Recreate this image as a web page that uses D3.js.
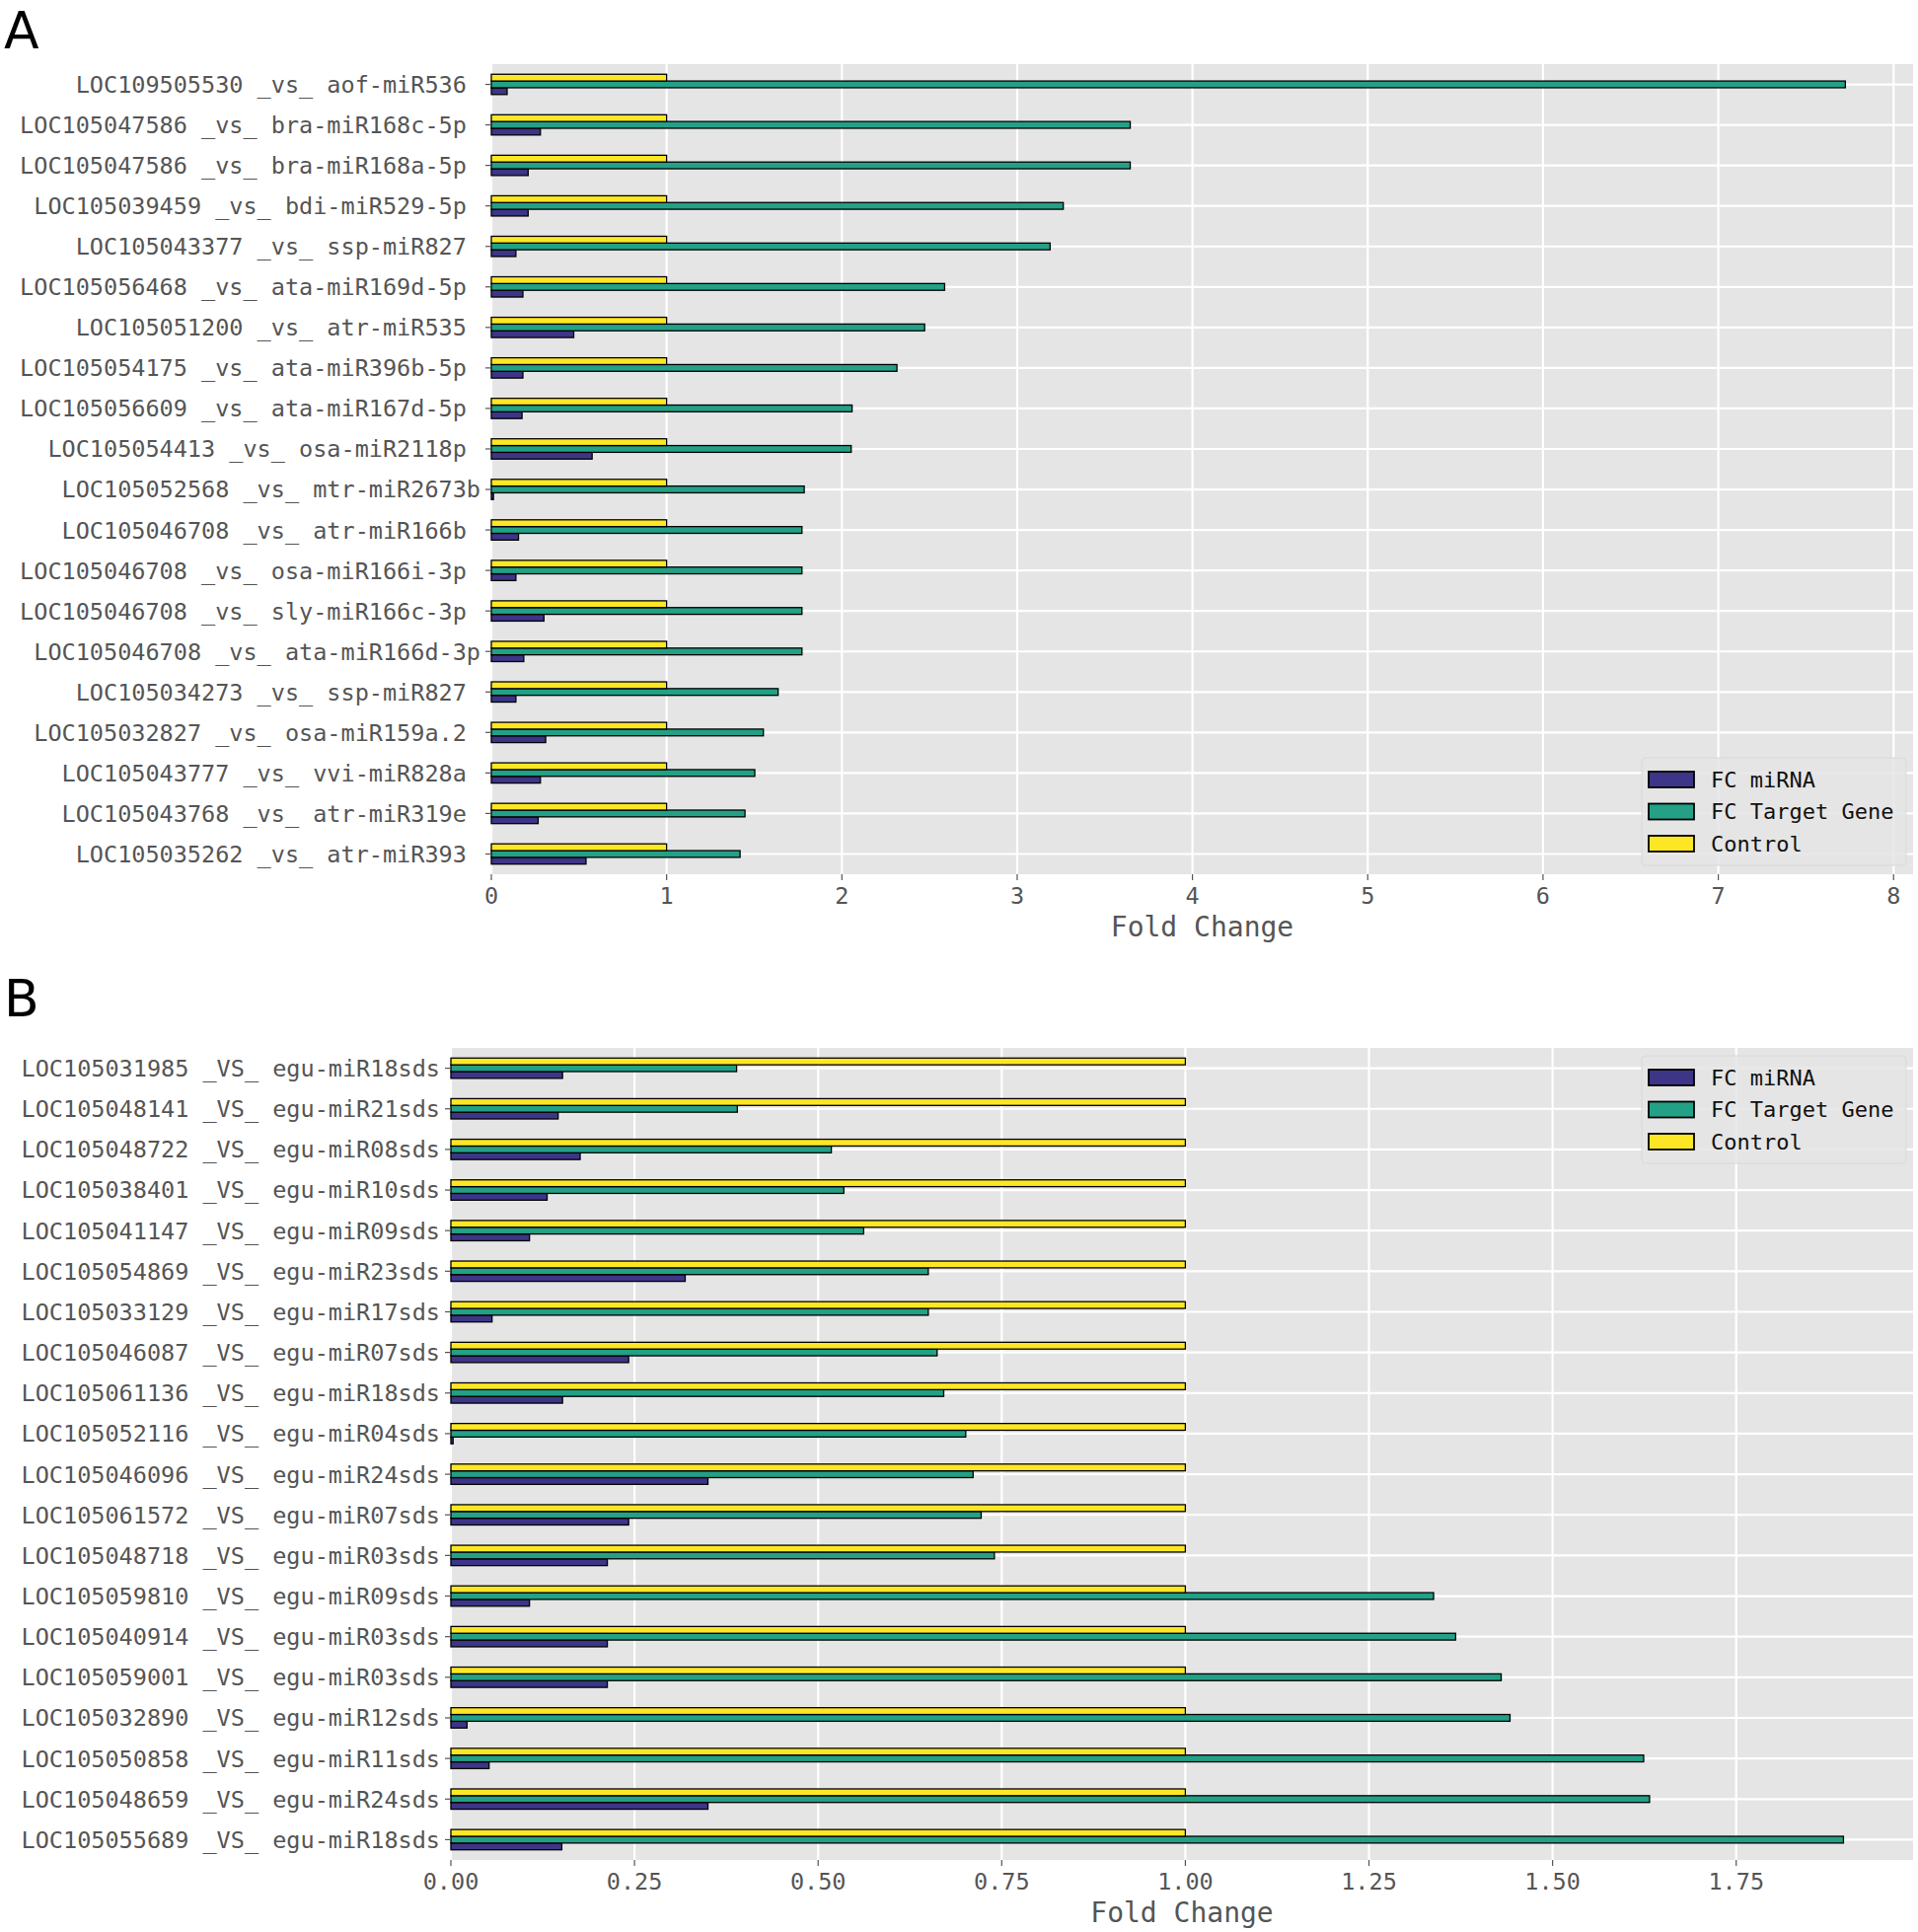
<!DOCTYPE html>
<html>
<head>
<meta charset="utf-8">
<script src="https://cdnjs.cloudflare.com/ajax/libs/d3/7.8.5/d3.min.js"></script>
<style>
  html, body { margin: 0; padding: 0; background: #ffffff; }
  svg text { white-space: pre; }
</style>
</head>
<body>
<svg id="chart" width="1944" height="1958"></svg>
<script>
// ---------------- Data ----------------
const seriesNames = ["FC miRNA", "FC Target Gene", "Control"];
const seriesColors = ["#3d3587", "#23a085", "#fde725"];

// Panel A (top to bottom)
const labelsA = [
  "LOC109505530 _vs_ aof-miR536 ",
  "LOC105047586 _vs_ bra-miR168c-5p ",
  "LOC105047586 _vs_ bra-miR168a-5p ",
  "LOC105039459 _vs_ bdi-miR529-5p ",
  "LOC105043377 _vs_ ssp-miR827 ",
  "LOC105056468 _vs_ ata-miR169d-5p ",
  "LOC105051200 _vs_ atr-miR535 ",
  "LOC105054175 _vs_ ata-miR396b-5p ",
  "LOC105056609 _vs_ ata-miR167d-5p ",
  "LOC105054413 _vs_ osa-miR2118p ",
  "LOC105052568 _vs_ mtr-miR2673b",
  "LOC105046708 _vs_ atr-miR166b ",
  "LOC105046708 _vs_ osa-miR166i-3p ",
  "LOC105046708 _vs_ sly-miR166c-3p ",
  "LOC105046708 _vs_ ata-miR166d-3p",
  "LOC105034273 _vs_ ssp-miR827 ",
  "LOC105032827 _vs_ osa-miR159a.2 ",
  "LOC105043777 _vs_ vvi-miR828a ",
  "LOC105043768 _vs_ atr-miR319e ",
  "LOC105035262 _vs_ atr-miR393 "
];
const miRNA_A   = [0.09, 0.28, 0.21, 0.21, 0.14, 0.18, 0.47, 0.18, 0.175, 0.575, 0.012, 0.155, 0.14, 0.30, 0.185, 0.14, 0.31, 0.28, 0.267, 0.54];
const target_A  = [7.725, 3.645, 3.645, 3.263, 3.188, 2.586, 2.472, 2.314, 2.058, 2.053, 1.785, 1.772, 1.772, 1.772, 1.772, 1.636, 1.552, 1.503, 1.447, 1.419];
const control_A = [1, 1, 1, 1, 1, 1, 1, 1, 1, 1, 1, 1, 1, 1, 1, 1, 1, 1, 1, 1];
const ticksA = [0, 1, 2, 3, 4, 5, 6, 7, 8];

// Panel B (top to bottom)
const labelsB = [
  "LOC105031985 _VS_ egu-miR18sds",
  "LOC105048141 _VS_ egu-miR21sds",
  "LOC105048722 _VS_ egu-miR08sds",
  "LOC105038401 _VS_ egu-miR10sds",
  "LOC105041147 _VS_ egu-miR09sds",
  "LOC105054869 _VS_ egu-miR23sds",
  "LOC105033129 _VS_ egu-miR17sds",
  "LOC105046087 _VS_ egu-miR07sds",
  "LOC105061136 _VS_ egu-miR18sds",
  "LOC105052116 _VS_ egu-miR04sds",
  "LOC105046096 _VS_ egu-miR24sds",
  "LOC105061572 _VS_ egu-miR07sds",
  "LOC105048718 _VS_ egu-miR03sds",
  "LOC105059810 _VS_ egu-miR09sds",
  "LOC105040914 _VS_ egu-miR03sds",
  "LOC105059001 _VS_ egu-miR03sds",
  "LOC105032890 _VS_ egu-miR12sds",
  "LOC105050858 _VS_ egu-miR11sds",
  "LOC105048659 _VS_ egu-miR24sds",
  "LOC105055689 _VS_ egu-miR18sds"
];
const miRNA_B   = [0.152, 0.146, 0.176, 0.131, 0.107, 0.319, 0.056, 0.242, 0.152, 0.003, 0.35, 0.242, 0.213, 0.107, 0.213, 0.213, 0.022, 0.052, 0.35, 0.151];
const target_B  = [0.389, 0.39, 0.518, 0.535, 0.562, 0.65, 0.65, 0.662, 0.671, 0.701, 0.711, 0.722, 0.74, 1.338, 1.368, 1.43, 1.442, 1.624, 1.632, 1.896];
const control_B = [1, 1, 1, 1, 1, 1, 1, 1, 1, 1, 1, 1, 1, 1, 1, 1, 1, 1, 1, 1];
const ticksB = [0, 0.25, 0.5, 0.75, 1.0, 1.25, 1.5, 1.75];

const xLabel = "Fold Change";

// ---------------- Drawing ----------------
const svg = d3.select("#chart");
svg.append("rect").attr("width", 1944).attr("height", 1958).attr("fill", "#ffffff");

const MONO = "'DejaVu Sans Mono', monospace";
const TICK_COLOR = "#555555";

function drawPanel(cfg) {
  const { left, right, top, bottom, labels, series, ticks, fmt, letter, letterY, legendPos } = cfg;
  const g = svg.append("g");
  const n = labels.length;
  const maxVal = d3.max(series.flat());
  const x = d3.scaleLinear().domain([0, maxVal * 1.05]).range([left, right]);
  const y = d3.scaleBand().domain(d3.range(n)).range([top, bottom]).padding(0);
  const step = y.step();
  const bh = step * 0.5 / 3;

  // background
  g.append("rect").attr("x", left).attr("y", top)
    .attr("width", right - left).attr("height", bottom - top).attr("fill", "#e5e5e5");

  // grid
  g.append("g").selectAll("line").data(ticks).join("line")
    .attr("x1", d => x(d)).attr("x2", d => x(d))
    .attr("y1", top).attr("y2", bottom)
    .attr("stroke", "#ffffff").attr("stroke-width", 2.2);
  g.append("g").selectAll("line").data(d3.range(n)).join("line")
    .attr("x1", left).attr("x2", right)
    .attr("y1", d => y(d) + step / 2).attr("y2", d => y(d) + step / 2)
    .attr("stroke", "#ffffff").attr("stroke-width", 2.2);

  // bars: series index 0 (miRNA) lowest, 2 (Control) top
  const offsets = [bh * 0.5, -bh * 0.5, -bh * 1.5];
  series.forEach((vals, si) => {
    g.append("g").selectAll("rect").data(vals).join("rect")
      .attr("x", x(0))
      .attr("y", (d, i) => y(i) + step / 2 + offsets[si])
      .attr("width", d => Math.max(0, x(d) - x(0)))
      .attr("height", bh)
      .attr("fill", seriesColors[si])
      .attr("stroke", "#000000")
      .attr("stroke-width", 1.3);
  });

  // x axis ticks
  const xa = g.append("g");
  xa.selectAll("line").data(ticks).join("line")
    .attr("x1", d => x(d)).attr("x2", d => x(d))
    .attr("y1", bottom).attr("y2", bottom + 6)
    .attr("stroke", TICK_COLOR).attr("stroke-width", 1.2);
  xa.selectAll("text").data(ticks).join("text")
    .attr("x", d => x(d)).attr("y", bottom + 30)
    .attr("text-anchor", "middle")
    .attr("font-family", MONO).attr("font-size", 23.5)
    .attr("fill", TICK_COLOR)
    .text(d => fmt(d));
  g.append("text")
    .attr("x", (left + right) / 2).attr("y", bottom + 63)
    .attr("text-anchor", "middle")
    .attr("font-family", MONO).attr("font-size", 28)
    .attr("fill", TICK_COLOR)
    .text(xLabel);

  // y axis ticks
  const ya = g.append("g");
  ya.selectAll("line").data(d3.range(n)).join("line")
    .attr("x1", left - 6).attr("x2", left)
    .attr("y1", d => y(d) + step / 2).attr("y2", d => y(d) + step / 2)
    .attr("stroke", TICK_COLOR).attr("stroke-width", 1.2);
  ya.selectAll("text").data(labels).join("text")
    .attr("x", left - 11)
    .attr("y", (d, i) => y(i) + step / 2)
    .attr("dy", "0.36em")
    .attr("text-anchor", "end")
    .attr("font-family", MONO).attr("font-size", 23.5)
    .attr("fill", TICK_COLOR)
    .text(d => d);

  // panel letter
  svg.append("text").attr("x", 4).attr("y", letterY)
    .attr("font-family", "'DejaVu Sans', sans-serif").attr("font-size", 52)
    .attr("fill", "#000000").text(letter);

  // legend
  const lw = 268, lh = 109;
  const lx = right - 7 - lw;
  const ly = legendPos === "lower" ? bottom - 9 - lh : top + 8;
  const lg = g.append("g");
  lg.append("rect").attr("x", lx).attr("y", ly).attr("width", lw).attr("height", lh)
    .attr("rx", 4).attr("fill", "#e5e5e5").attr("fill-opacity", 0.85)
    .attr("stroke", "#d9d9d9").attr("stroke-width", 1);
  seriesNames.forEach((name, i) => {
    const cy = ly + 22 + i * 32.5;
    lg.append("rect").attr("x", lx + 7).attr("y", cy - 8).attr("width", 46).attr("height", 16)
      .attr("fill", seriesColors[i]).attr("stroke", "#000000").attr("stroke-width", 1.8);
    lg.append("text").attr("x", lx + 70).attr("y", cy).attr("dy", "0.36em")
      .attr("font-family", MONO).attr("font-size", 22).attr("fill", "#111111")
      .text(name);
  });
}

drawPanel({
  left: 498, right: 1939, top: 65, bottom: 886,
  labels: labelsA,
  series: [miRNA_A, target_A, control_A],
  ticks: ticksA, fmt: d3.format("d"),
  letter: "A", letterY: 49, legendPos: "lower"
});

drawPanel({
  left: 457, right: 1939, top: 1062, bottom: 1885,
  labels: labelsB,
  series: [miRNA_B, target_B, control_B],
  ticks: ticksB, fmt: d3.format(".2f"),
  letter: "B", letterY: 1030, legendPos: "upper"
});
</script>
</body>
</html>
